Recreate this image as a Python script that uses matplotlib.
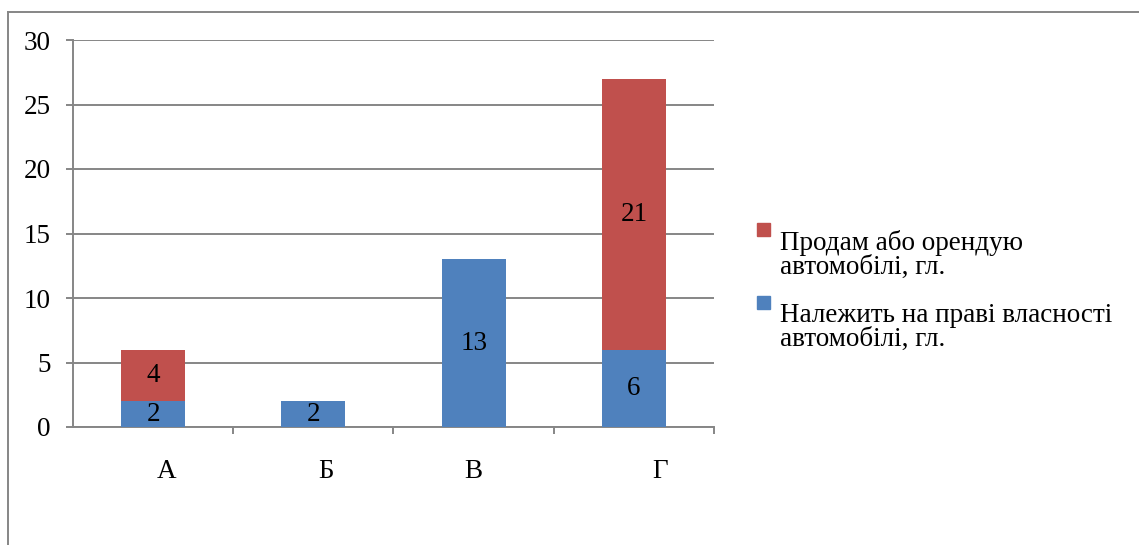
"""Stacked bar chart: cars by group (Excel-style)."""

import matplotlib
matplotlib.use("Agg")
import matplotlib.pyplot as plt
import matplotlib.transforms as mtransforms
from matplotlib.lines import Line2D
from matplotlib.patches import Rectangle

categories = ["А", "Б", "В", "Г"]
owned = [2, 2, 13, 6]
sell_or_rent = [4, 0, 0, 21]
series_names = [
    "Продам або орендую\nавтомобілі, гл.",
    "Належить на праві власності\nавтомобілі, гл.",
]
label_shift_px = [13, 13, 0, 26]

RED = "#C0504D"
BLUE = "#4F81BD"
GRID = "#868686"
W, H = 1139, 545
FS = 19.5

plt.rcParams["font.family"] = ["Liberation Serif", "DejaVu Serif"]
plt.rcParams["font.size"] = FS

fig = plt.figure(figsize=(W / 100, H / 100), dpi=100)
ax = fig.add_axes([73 / W, 1 - 427 / H, (714 - 73) / W, (427 - 40) / H])

x = range(len(categories))
b1 = ax.bar(x, owned, width=0.4, color=BLUE, zorder=3)
b2 = ax.bar(x, sell_or_rent, width=0.4, bottom=owned, color=RED, zorder=3)

for bars, vals in ((b1, owned), (b2, sell_or_rent)):
    labels = [str(v) if v else "" for v in vals]
    ax.bar_label(bars, labels=labels, label_type="center", fontsize=FS, color="black")

ax.set_xlim(-0.5, len(categories) - 0.5)
ax.set_ylim(0, 30)
ax.set_yticks(range(0, 31, 5))
ax.yaxis.grid(True, color=GRID, linewidth=1.4, zorder=0)
ax.set_axisbelow(True)

ax.set_xticks(list(x))
ax.set_xticklabels(categories)
ax.set_xticks([i + 0.5 for i in x], minor=True)
ax.tick_params(axis="x", which="major", length=0, pad=23)
ax.tick_params(axis="x", which="minor", length=5, width=1.4, color=GRID, direction="out")
ax.tick_params(axis="y", length=5, width=1.4, color=GRID, pad=11)

for lbl, dx in zip(ax.get_xticklabels(), label_shift_px):
    lbl.set_transform(lbl.get_transform() + mtransforms.Affine2D().translate(dx, 0))

for side in ("top", "right"):
    ax.spines[side].set_visible(False)
for side in ("left", "bottom"):
    ax.spines[side].set_color(GRID)
    ax.spines[side].set_linewidth(1.4)

# chart frame (only top and left edges visible in the crop)
fig.add_artist(Line2D([8 / W, 8 / W], [0, 1 - 12 / H], color=GRID, lw=1.4))
fig.add_artist(Line2D([8 / W, 1], [1 - 12 / H, 1 - 12 / H], color=GRID, lw=1.4))

# legend drawn by hand so the swatch sits on the first line
legend_rows = [(RED, 223), (BLUE, 296)]
for (color, top), name in zip(legend_rows, series_names):
    fig.add_artist(Rectangle((757 / W, 1 - (top + 13) / H), 13 / W, 13 / H,
                             color=color, transform=fig.transFigure))
    fig.text(780 / W, 1 - (top + 7) / H, name, ha="left", va="top",
             fontsize=FS, linespacing=0.92)

fig.savefig("out.png", dpi=100)
